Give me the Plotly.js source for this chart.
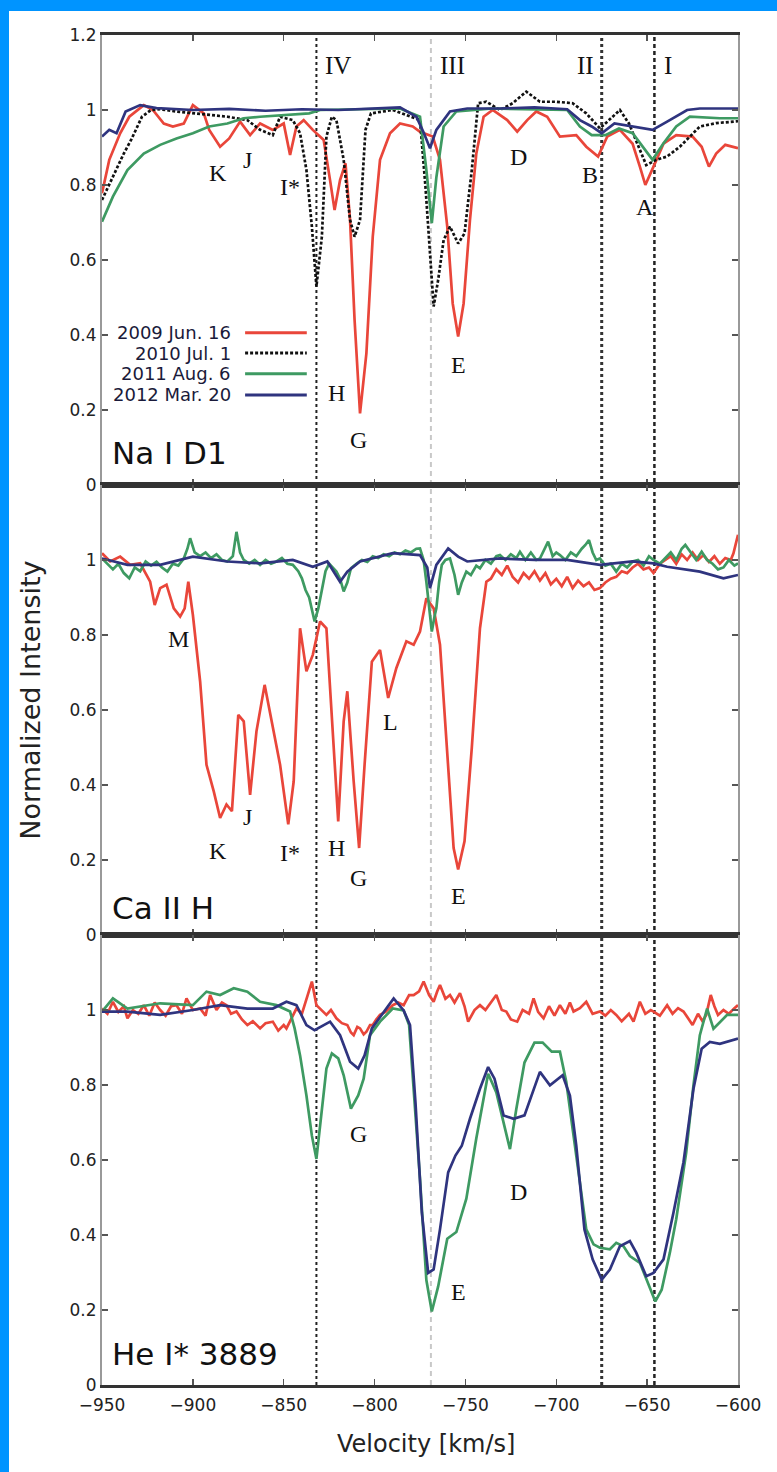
<!DOCTYPE html>
<html><head><meta charset="utf-8">
<script src="https://cdn.plot.ly/plotly-3.0.1.min.js"></script>
<style>
html,body{margin:0;padding:0;background:#fff;}
#wrap{position:relative;width:777px;height:1472px;overflow:hidden;}
#plot{position:absolute;left:0;top:0;width:777px;height:1472px;}
.barL{position:absolute;left:0;top:0;width:9px;height:1472px;background:#0094FF;z-index:5;}
.barT{position:absolute;left:0;top:0;width:777px;height:11px;background:#0094FF;z-index:5;}
</style></head>
<body><div id="wrap"><div id="plot"></div><div class="barL"></div><div class="barT"></div></div>
<script>
// ---------- data ----------
const seriesNames = ['2009 Jun. 16', '2010 Jul. 1', '2011 Aug. 6', '2012 Mar. 20'];
const panelNames = ['Na I D1', 'Ca II H', 'He I* 3889'];
const xTicks = [-950, -900, -850, -800, -750, -700, -650, -600];
const yTicksTop = [0, 0.2, 0.4, 0.6, 0.8, 1, 1.2];
const yTicks = [0, 0.2, 0.4, 0.6, 0.8, 1];
const romanLabels = ['I', 'II', 'III', 'IV'];
const romanVel = [-646, -675, -769, -832];
const romanLabelVel = [-638.5, -684, -757, -820];

// Na I D1
const naVel2009 = [-950,-946,-940,-935,-927,-922,-916,-911,-905,-900,-894,-891,-885,-880,-874,-868.5,-863,-856,-850,-846.5,-843,-839,-834,-828,-824.5,-822,-819,-816,-813.5,-811,-808,-804.5,-801,-797,-791.5,-786,-779,-775,-768,-764,-760,-757,-754,-751,-747.5,-744,-740,-735,-727,-721.5,-716,-711,-705,-698,-689,-683.5,-677,-672,-665,-658,-654,-651,-646.5,-641,-634,-625,-620,-616,-612,-607,-600];
const naInt2009 = [0.778,0.867,0.938,0.982,1.013,1.0,0.964,0.956,0.964,1.013,0.991,0.947,0.902,0.924,0.969,0.933,0.964,0.947,0.964,0.88,0.956,0.973,0.947,0.92,0.813,0.733,0.813,0.858,0.707,0.44,0.191,0.351,0.662,0.867,0.938,0.964,0.956,0.942,0.929,0.867,0.689,0.484,0.396,0.484,0.707,0.884,0.982,1.0,0.973,0.942,0.973,0.996,0.982,0.929,0.933,0.902,0.876,0.929,0.947,0.91,0.849,0.8,0.849,0.91,0.933,0.929,0.902,0.849,0.884,0.907,0.898];
const naVel2010 = [-950,-944,-938,-934,-928,-923,-918,-909,-900,-891,-881,-870,-863,-856,-852,-845,-841,-837.5,-834.5,-832,-829,-826.5,-823.5,-821,-817,-813.5,-811,-808,-805,-802,-790,-775,-772,-769.5,-767.5,-765,-762,-758.5,-754,-750.5,-746.5,-743,-738.5,-731,-724,-716.5,-709,-700,-691,-683.5,-676,-671,-665,-660,-654,-650.5,-645,-639,-632,-626.5,-621,-612,-600];
const naInt2010 = [0.76,0.822,0.884,0.92,0.982,1.0,1.002,0.996,0.991,0.987,0.982,0.973,0.947,0.933,0.982,0.973,0.938,0.84,0.689,0.529,0.662,0.929,0.982,0.973,0.867,0.707,0.662,0.707,0.947,0.991,1.0,0.973,0.796,0.618,0.476,0.547,0.653,0.689,0.644,0.671,0.84,1.018,1.022,1.0,1.018,1.049,1.022,1.022,1.018,0.991,0.951,0.973,1.0,0.964,0.893,0.853,0.867,0.876,0.902,0.929,0.956,0.965,0.97];
const naVel2011 = [-950,-944,-936,-927,-918,-909,-900,-891,-881,-872,-863,-845,-836,-830,-800,-786,-775,-771.5,-768.5,-766,-762,-755,-735,-694,-687,-680.5,-673,-665.5,-658,-651,-647,-641,-634,-626.5,-610,-600];
const naInt2011 = [0.702,0.769,0.84,0.884,0.907,0.924,0.938,0.956,0.964,0.978,0.982,0.987,0.991,1.0,1.004,1.004,0.982,0.84,0.698,0.82,0.956,0.996,1.004,1.0,0.956,0.933,0.933,0.951,0.938,0.893,0.867,0.911,0.956,0.982,0.978,0.978];
const naVel2012 = [-950,-946,-942,-937,-929,-920,-900,-880,-860,-840,-820,-800,-786,-777,-773,-769.5,-766,-758.5,-749,-731,-712,-694,-687,-680.5,-675,-668,-658,-647,-639,-628,-621,-600];
const naInt2012 = [0.929,0.947,0.938,0.996,1.013,1.005,1.0,1.003,0.998,1.002,1.0,1.005,1.007,0.982,0.94,0.898,0.947,0.996,1.004,1.004,1.007,1.002,0.973,0.956,0.938,0.964,0.956,0.947,0.969,1.0,1.004,1.004];

// Ca II H
const caVel2009 = [-950,-945.5,-940,-934.5,-929,-923.5,-921,-918,-914.5,-910.5,-907,-904.5,-902.5,-900,-896,-892.5,-888.5,-885,-881.5,-878.5,-875,-872,-868.5,-865,-860.5,-856.5,-852,-847.5,-844.5,-841,-837.5,-834,-830,-826.5,-823.5,-820,-817,-815,-811.5,-808.5,-805.5,-801.5,-797,-792.5,-788,-782.5,-778.5,-775,-771.5,-767.5,-764,-760,-756.5,-754,-750.5,-746.5,-742,-738.5,-736,-733,-730,-727,-724,-721,-718,-715,-712,-709,-706,-703,-700,-697,-694,-691,-688,-685,-682,-679,-676,-673,-670,-667,-664,-661,-658,-655,-652,-649,-646.5,-643,-640,-637,-634,-631,-628,-625,-622,-619,-616,-613,-610,-607,-604,-602.5,-600];
const caInt2009 = [1.018,0.996,1.009,0.987,0.991,0.942,0.88,0.925,0.934,0.871,0.849,0.871,0.942,0.854,0.676,0.454,0.383,0.312,0.348,0.33,0.587,0.57,0.374,0.543,0.667,0.57,0.454,0.295,0.41,0.818,0.703,0.747,0.836,0.818,0.587,0.303,0.57,0.65,0.41,0.232,0.454,0.729,0.76,0.632,0.712,0.783,0.774,0.809,0.898,0.871,0.774,0.499,0.232,0.175,0.25,0.499,0.818,0.942,0.95,0.975,0.96,0.985,0.955,0.94,0.965,0.95,0.97,0.945,0.965,0.935,0.95,0.93,0.955,0.925,0.945,0.93,0.94,0.92,0.925,0.94,0.95,0.955,0.97,0.965,0.98,0.99,0.975,0.98,0.965,0.99,1.0,1.01,0.99,1.015,1.0,1.02,1.0,1.013,0.995,1.01,0.99,1.005,1.0,1.018,1.067];
const caVel2011 = [-950,-947,-944,-941,-938,-935,-932,-929,-926,-923,-920,-917,-914,-911,-908,-905,-903,-901.5,-899,-896,-893,-890,-887,-884,-881,-878,-876,-874,-872,-869,-866,-863,-860,-857,-854,-851,-848,-845,-842,-840,-838,-836,-834,-833,-831,-829,-827,-825,-823,-821,-819,-817,-815,-813,-810,-807,-804,-801,-798,-795,-792,-789,-786,-783,-780,-777,-775,-773,-771.5,-770,-768.5,-767,-766,-764.5,-763,-761,-758.5,-756,-754,-752,-749.5,-747,-744,-742,-739,-736,-733,-731,-728,-725,-722,-720,-717,-714,-711,-709,-706.5,-704.5,-702,-700,-698,-695,-692,-689,-686,-684,-682,-680,-678,-676,-673,-670,-667,-664,-661,-658,-655,-652,-649,-646.5,-643,-640,-637,-634,-631,-629,-626,-623,-620,-617,-614,-611,-608,-605,-602,-600];
const caInt2011 = [1.004,0.99,0.975,0.99,0.965,0.951,0.98,0.97,0.996,0.985,0.995,0.98,0.969,0.99,0.985,1.004,1.03,1.058,1.02,1.01,1.02,1.005,1.015,1.0,0.996,1.01,1.075,1.02,1.0,0.99,1.0,0.987,1.0,0.99,0.996,1.005,0.99,0.987,0.97,0.951,0.92,0.9,0.86,0.836,0.87,0.925,0.97,0.99,0.98,0.969,0.95,0.916,0.94,0.978,0.99,1.0,0.995,1.01,1.005,1.015,1.01,1.02,1.015,1.025,1.02,1.03,1.031,1.0,0.942,0.87,0.809,0.85,0.871,0.94,0.987,1.0,1.004,0.96,0.907,0.94,0.969,0.96,0.985,0.978,1.0,0.99,1.01,1.013,1.0,1.015,1.005,1.022,1.0,1.02,1.0,1.004,1.03,1.049,1.01,1.02,1.013,1.0,1.02,1.01,1.03,1.04,1.053,1.02,1.0,1.004,0.985,0.99,0.969,0.99,0.98,0.996,1.0,0.985,1.01,1.0,0.99,1.004,1.02,1.0,1.03,1.04,1.02,1.0,1.022,1.0,0.99,0.975,0.98,1.0,0.985,0.991];
const caVel2012 = [-950,-936,-918,-900,-881,-863,-845,-834,-826,-819,-815,-808,-790,-775,-771,-769.5,-766,-759.5,-754,-749,-731,-712,-694,-676,-658,-646.5,-639,-621,-608,-600];
const caInt2012 = [1.004,0.987,0.987,1.009,0.996,0.991,1.0,0.982,0.996,0.942,0.969,0.996,1.018,1.013,0.98,0.925,0.987,1.031,1.009,0.996,1.004,1.0,1.0,0.987,0.996,0.991,0.982,0.969,0.951,0.96];

// He I* 3889
const heVel2009 = [-950,-947,-944,-941,-938,-936,-933,-930,-927,-924,-921,-918,-915,-912,-909,-906,-903.5,-900,-896,-893,-890.5,-887,-884,-881.5,-879,-876,-873,-870,-867,-863,-860,-856,-853,-850,-848.5,-846,-843,-840,-837.5,-834.5,-832,-829,-826.5,-824,-821,-818,-815,-813,-811.5,-809.5,-808,-806,-804.5,-802.5,-801,-799,-797,-794,-790,-787,-784,-781,-778.5,-775.5,-773,-770,-767.5,-765.5,-764,-761,-758.5,-756,-753,-750.5,-748.5,-745,-742,-739,-736,-733,-730,-727.5,-725,-721.5,-718.5,-715,-712.5,-710,-707,-704,-701,-698,-695,-692.5,-690.5,-687,-683.5,-680,-676,-673,-670,-667,-664,-660,-657.5,-654,-651,-648,-646.5,-643,-639,-636,-633,-630,-627,-625,-622,-619.5,-617.5,-615,-613,-611,-608,-605,-602,-600];
const heInt2009 = [1.004,0.99,1.022,0.995,1.01,0.978,1.0,0.99,1.013,0.985,1.02,1.0,0.985,1.01,1.013,0.99,1.031,1.0,1.004,0.985,1.04,1.0,1.02,1.013,0.99,0.996,0.975,0.96,0.97,0.951,0.965,0.969,0.945,0.96,0.951,0.975,1.004,0.99,1.031,1.076,1.013,1.0,0.987,1.0,0.978,0.965,0.96,0.94,0.933,0.955,0.951,0.935,0.942,0.96,0.96,0.975,0.987,0.995,1.013,1.02,1.013,1.04,1.04,1.05,1.076,1.04,1.022,1.05,1.067,1.03,1.04,1.02,1.045,1.01,0.969,1.0,1.013,1.0,1.02,1.04,1.0,0.996,0.975,0.969,1.0,0.99,1.031,0.995,0.978,1.01,0.985,1.013,0.99,1.02,0.996,1.005,1.022,0.99,0.996,0.985,1.0,0.987,0.97,0.99,0.969,1.022,0.99,1.0,0.996,0.985,1.013,0.99,1.005,0.996,0.975,0.96,0.99,0.97,0.987,1.04,1.01,0.987,1.0,0.99,1.005,1.013];
const heVel2011 = [-950,-944,-936,-918,-900,-892.5,-885,-877.5,-870,-863,-854,-846.5,-844,-841,-837.5,-834.5,-832,-829,-826.5,-823.5,-820,-817,-813,-809,-806,-802.5,-797,-790,-784,-781,-778.5,-775,-771.5,-768.5,-765,-760,-755,-749.5,-744,-737.5,-733,-728.5,-725.5,-722,-717.5,-712,-707.5,-702.5,-698,-694.5,-690.5,-687,-683.5,-679.5,-676,-670.5,-667,-663,-659.5,-654,-649.5,-645.5,-642,-637.5,-634,-628.5,-624.5,-621,-617,-613.5,-606,-600];
const heInt2011 = [0.996,1.031,1.004,1.018,1.013,1.049,1.04,1.058,1.049,1.022,1.013,0.996,0.951,0.879,0.772,0.665,0.603,0.728,0.844,0.884,0.871,0.826,0.737,0.772,0.817,0.933,0.969,1.004,0.999,0.96,0.8,0.55,0.28,0.196,0.263,0.39,0.408,0.497,0.658,0.83,0.78,0.69,0.629,0.736,0.86,0.913,0.913,0.889,0.889,0.808,0.665,0.531,0.415,0.375,0.366,0.362,0.379,0.37,0.344,0.326,0.272,0.223,0.254,0.353,0.442,0.62,0.8,0.933,1.004,0.95,0.987,0.987];
const heVel2012 = [-950,-936,-918,-900,-885,-870,-856,-848.5,-843,-837.5,-833,-828,-824.5,-819,-813.5,-809,-805.5,-801.5,-795,-789.5,-784,-780.5,-777.5,-774,-770.5,-767.5,-764,-759.5,-755.5,-752,-747.5,-742,-737.5,-734,-729,-723.5,-717.5,-713.5,-709,-703.5,-696.5,-692.5,-689,-684.5,-680,-675,-670.5,-665,-659.5,-656,-650.5,-646.5,-641,-635.5,-630,-624.5,-620,-615.5,-610,-600];
const heInt2012 = [0.996,0.996,0.987,1.0,1.013,1.004,1.004,1.022,1.013,0.96,0.946,0.96,0.969,0.933,0.862,0.844,0.879,0.951,0.996,1.031,0.999,0.96,0.754,0.46,0.299,0.308,0.415,0.567,0.612,0.638,0.71,0.79,0.848,0.817,0.719,0.71,0.719,0.772,0.835,0.799,0.826,0.772,0.638,0.415,0.335,0.281,0.308,0.37,0.384,0.353,0.29,0.299,0.335,0.46,0.594,0.79,0.897,0.915,0.91,0.924];

// letter labels: [panel, text, velocity, intensity]
const letterPanel = [0,0,0,0,0,0,0,0,0, 1,1,1,1,1,1,1,1, 2,2,2];
const letterText  = ['K','J','I*','H','G','E','D','B','A', 'M','K','J','I*','H','G','L','E', 'G','E','D'];
const letterVel   = [-886,-870,-846.5,-820.7,-809,-754,-721,-681.4,-651, -908,-886,-870,-846.5,-820.7,-809,-791.5,-754, -809,-754,-721];
const letterInt   = [0.832,0.867,0.795,0.245,0.12,0.32,0.875,0.827,0.741, 0.79,0.223,0.316,0.218,0.231,0.152,0.569,0.104, 0.669,0.249,0.514];

// ---------- styles ----------
const colors = ['#E9463A', '#111111', '#3E9A62', '#2F347F'];
const dashes = ['solid', '3px,2px', 'solid', 'solid'];
const sans = 'DejaVu Sans, sans-serif';
const serif = 'Liberation Serif, Times New Roman, serif';

function tr(v, y, s, p) {
  const ax = p === 0 ? '' : String(p + 1);
  return {x: v, y: y, type: 'scatter', mode: 'lines', name: seriesNames[s],
    xaxis: 'x' + ax, yaxis: 'y' + ax, showlegend: false, hoverinfo: 'skip',
    line: {color: colors[s], width: 2.7, dash: dashes[s]}};
}
const data = [
  tr(naVel2009, naInt2009, 0, 0), tr(naVel2010, naInt2010, 1, 0), tr(naVel2011, naInt2011, 2, 0), tr(naVel2012, naInt2012, 3, 0),
  tr(caVel2009, caInt2009, 0, 1), tr(caVel2011, caInt2011, 2, 1), tr(caVel2012, caInt2012, 3, 1),
  tr(heVel2009, heInt2009, 0, 2), tr(heVel2011, heInt2011, 2, 2), tr(heVel2012, heInt2012, 3, 2)
];

const doms = [[0.6667, 1], [0.3333, 0.6667], [0, 0.3333]];
const layout = {
  width: 777, height: 1472,
  margin: {l: 102, r: 39, t: 35, b: 87},
  paper_bgcolor: '#fff', plot_bgcolor: '#fff',
  font: {family: sans, size: 17, color: '#222'},
  shapes: [], annotations: []
};
for (let p = 0; p < 3; p++) {
  const ax = p === 0 ? '' : String(p + 1);
  layout['xaxis' + ax] = {
    range: [-950, -600], anchor: 'y' + ax, tickvals: xTicks, showticklabels: p === 2,
    ticks: 'inside', ticklen: 6, tickwidth: 1.5, tickcolor: '#555', mirror: 'ticks',
    showline: true, linewidth: 3, linecolor: '#333', showgrid: false, zeroline: false,
    tickfont: {family: sans, size: 17, color: '#222'}, ticklabelstandoff: 3,
    matches: p === 0 ? undefined : 'x'
  };
  layout['yaxis' + ax] = {
    domain: doms[p], range: [0, 1.2], anchor: 'x' + ax,
    tickvals: p === 0 ? yTicksTop : yTicks, ticktext: (p === 0 ? yTicksTop : yTicks).map(String),
    ticks: 'inside', ticklen: 6, tickwidth: 1.5, tickcolor: '#555', mirror: 'ticks',
    showline: true, linewidth: 2, linecolor: '#999', showgrid: false, zeroline: false,
    tickfont: {family: sans, size: 17, color: '#222'}
  };
  layout.annotations.push({
    xref: 'x' + ax + ' domain', yref: 'y' + ax + ' domain', x: 0.012, y: p === 1 ? 0.06 : 0.07,
    xanchor: 'left', yanchor: 'middle', text: panelNames[p], showarrow: false,
    font: {family: sans, size: 31, color: '#111'}
  });
}
// component velocity lines
const vStyles = [
  {color: '#222', width: 2.5, dash: '4px,3px'},
  {color: '#333', width: 3, dash: '3px,3px'},
  {color: '#c8c8c8', width: 2, dash: '5px,4px'},
  {color: '#222', width: 2, dash: '3px,3px'}
];
for (let i = 0; i < romanVel.length; i++) {
  layout.shapes.push({type: 'line', xref: 'x', yref: 'paper', x0: romanVel[i], x1: romanVel[i], y0: 0, y1: 1,
    line: vStyles[i], layer: 'below'});
  layout.annotations.push({xref: 'x', yref: 'y', x: romanLabelVel[i], y: 1.12, text: romanLabels[i],
    showarrow: false, xanchor: 'center', yanchor: 'middle', font: {family: serif, size: 25, color: '#111'}});
}
// letters
for (let i = 0; i < letterText.length; i++) {
  const ax = letterPanel[i] === 0 ? '' : String(letterPanel[i] + 1);
  layout.annotations.push({xref: 'x' + ax, yref: 'y' + ax, x: letterVel[i], y: letterInt[i],
    text: letterText[i], showarrow: false, xanchor: 'center', yanchor: 'middle',
    font: {family: serif, size: 24, color: '#111'}});
}
// manual legend (text left of line sample)
const legY = [0.338, 0.293, 0.247, 0.2];
for (let s = 0; s < 4; s++) {
  layout.annotations.push({xref: 'x domain', yref: 'y domain', x: 0.206, y: legY[s], text: seriesNames[s],
    showarrow: false, xanchor: 'right', yanchor: 'middle', font: {family: sans, size: 18, color: '#1a1a3a'}});
  layout.shapes.push({type: 'line', xref: 'x domain', yref: 'y domain', x0: 0.225, x1: 0.322, y0: legY[s], y1: legY[s],
    line: {color: colors[s], width: 3, dash: dashes[s]}});
}
// axis titles
layout.annotations.push({xref: 'paper', yref: 'paper', x: -0.113, y: 0.507, text: 'Normalized Intensity',
  textangle: -90, showarrow: false, xanchor: 'center', yanchor: 'middle', font: {family: sans, size: 27, color: '#222'}});
layout.annotations.push({xref: 'paper', yref: 'paper', x: 0.509, y: -0.044, text: 'Velocity [km/s]',
  showarrow: false, xanchor: 'center', yanchor: 'middle', font: {family: sans, size: 24, color: '#222'}});

Plotly.newPlot('plot', data, layout, {staticPlot: true, displayModeBar: false});
</script></body></html>
